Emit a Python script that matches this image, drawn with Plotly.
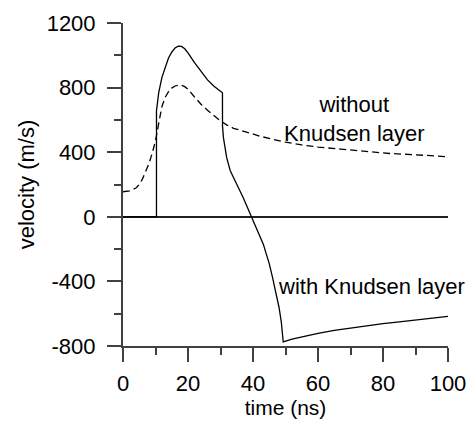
import plotly.graph_objects as go

# Surface velocity with the Knudsen layer (solid curve)
t_with = [0, 10.3, 10.3, 11, 12, 13, 14, 15, 16, 17, 18, 19, 20, 22, 24, 26, 28, 30, 30.6,
          30.62, 30.9, 31.4, 31.9, 33, 34, 35, 36, 37, 38, 39.6, 41, 43.2, 44, 45, 46, 47, 48, 48.7, 49.3,
          52, 56, 60, 65, 70, 75, 80, 85, 90, 95, 100]
v_with = [0, 0, 656, 770, 865, 932, 983, 1020, 1045, 1057, 1055, 1040, 1015, 955, 898, 848, 808, 778, 768,
          560, 490, 428, 366, 285, 240, 198, 160, 118, 72, 0, -70, -171, -225, -290, -375, -465, -560, -650, -775,
          -758, -738, -722, -703, -688, -674, -662, -651, -640, -628, -617]

# Surface velocity without the Knudsen layer (dashed curve)
t_without = [0, 2, 4, 5, 6, 7, 8, 9, 10, 11, 12, 13, 14, 15, 16, 17, 18, 19, 20, 22, 24, 26, 28, 30,
             32, 34, 38, 42, 46, 50, 55, 60, 67, 75, 82, 90, 98, 100]
v_without = [155, 160, 178, 200, 235, 280, 330, 395, 470, 580, 685, 740, 775, 797, 810, 815, 814, 806, 790,
             742, 697, 660, 625, 594, 568, 548, 525, 500, 480, 462, 445, 432, 419, 405, 392, 384, 375, 372]

x_ticks = [0, 20, 40, 60, 80, 100]
y_ticks = [-800, -400, 0, 400, 800, 1200]

FONT = "Liberation Sans, Arial, sans-serif"
AXIS_COLOR = "#404040"

fig = go.Figure()
fig.add_trace(go.Scatter(x=t_without, y=v_without, mode="lines",
                         line=dict(color="black", width=1.3, dash="7px,4px"),
                         showlegend=False, hoverinfo="skip"))
fig.add_trace(go.Scatter(x=t_with, y=v_with, mode="lines",
                         line=dict(color="black", width=1.3),
                         showlegend=False, hoverinfo="skip"))

fig.add_annotation(x=71.1, y=604, text="without<br>Knudsen layer", showarrow=False,
                   xanchor="center", yanchor="middle", align="center",
                   font=dict(family=FONT, size=22, color="black"))
fig.add_annotation(x=47.0, y=-430, text="with Knudsen layer", showarrow=False,
                   xanchor="left", yanchor="middle",
                   font=dict(family=FONT, size=22, color="black"))

fig.update_layout(
    width=468, height=421,
    margin=dict(l=123, r=20, t=23, b=75),
    paper_bgcolor="white", plot_bgcolor="white",
    font=dict(family=FONT, size=21, color="black"),
    xaxis=dict(
        range=[0, 100], tickvals=x_ticks, ticktext=[str(v) for v in x_ticks],
        showgrid=False, zeroline=False, automargin=False,
        showline=True, linecolor=AXIS_COLOR, linewidth=2,
        ticks="outside", ticklen=14, tickwidth=2, tickcolor=AXIS_COLOR,
        minor=dict(dtick=10, tick0=0, ticks="outside", ticklen=7, tickwidth=2, tickcolor=AXIS_COLOR,
                   showgrid=False),
        ticklabelstandoff=3,
        title=dict(text="time (ns)", standoff=1,
                   font=dict(family=FONT, size=21, color="black")),
        tickfont=dict(family=FONT, size=22, color="black"),
    ),
    yaxis=dict(
        range=[-800, 1200], tickvals=y_ticks, ticktext=[str(v) for v in y_ticks],
        showgrid=False, zeroline=True, zerolinecolor="#222222", zerolinewidth=1.5, automargin=False,
        showline=True, linecolor=AXIS_COLOR, linewidth=2,
        ticks="outside", ticklen=14, tickwidth=2, tickcolor=AXIS_COLOR,
        minor=dict(dtick=200, tick0=0, ticks="outside", ticklen=7, tickwidth=2, tickcolor=AXIS_COLOR,
                   showgrid=False),
        ticklabelstandoff=7,
        title=dict(text="velocity (m/s)", standoff=6,
                   font=dict(family=FONT, size=22, color="black")),
        tickfont=dict(family=FONT, size=22, color="black"),
    ),
)

fig.write_html("out.html")
